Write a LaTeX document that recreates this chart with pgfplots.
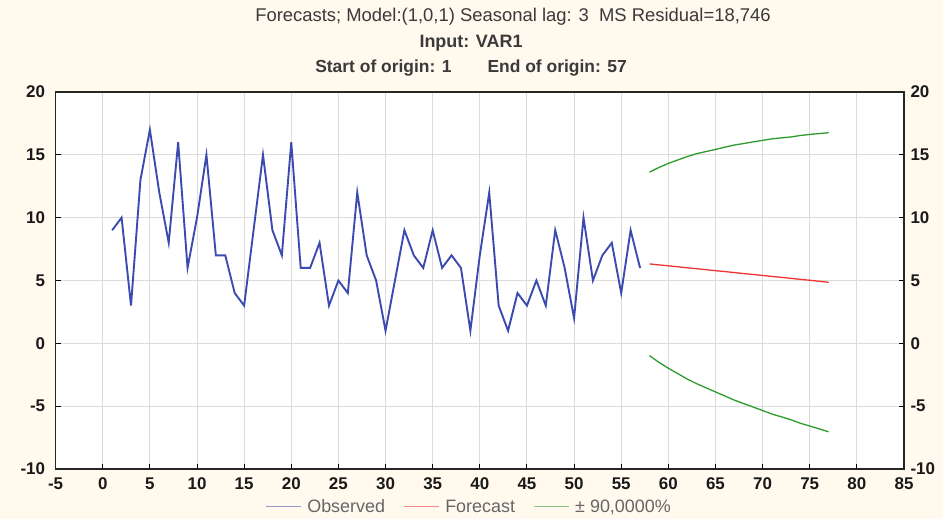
\documentclass[border=0pt]{standalone}
\usepackage{fontspec}
\setmainfont{Liberation Sans}
\usepackage{pgfplots}
\pgfplotsset{compat=1.18}
\definecolor{bgc}{HTML}{FFF9EE}
\definecolor{obs}{HTML}{3B4BB0}
\definecolor{fc}{HTML}{EE3333}
\definecolor{ci}{HTML}{2E9B2E}
\definecolor{gridc}{HTML}{DCDCDC}
\definecolor{txt}{HTML}{3A3A3A}
\begin{document}
\begin{tikzpicture}[x=1bp,y=1bp]
\fill[bgc] (0,0) rectangle (943,519);
\path[use as bounding box] (0,0) rectangle (943,519);
\begin{axis}[
  at={(55.6bp,50bp)}, anchor=south west,
  scale only axis, width=848.4bp, height=377bp,
  xmin=-5, xmax=85, ymin=-10, ymax=20,
  xtick={-5,0,...,85}, ytick={-10,-5,...,20},
  grid=major, major grid style={gridc, line width=0.9bp},
  axis background/.style={fill=white},
  axis line style={line width=1.4bp, black!85},
  tick align=inside, xtick pos=left, ytick pos=both, yticklabel pos=left,
  major tick length=5bp, tick style={line width=0.9bp, black},
  ticklabel style={font=\bfseries\fontsize{17}{17}\selectfont, text=black!90},
  /pgf/number format/assume math mode=true,
  xticklabel style={yshift=-5bp},
  yticklabel style={xshift=-7bp},
  legend style={at={(0.4896,-0.1)}, anchor=center, draw=none, fill=none,
    font=\fontsize{18}{18}\selectfont, text=black!60,
    nodes={inner xsep=6bp, inner ysep=1bp},
    /tikz/every even column/.append style={column sep=12bp}},
  legend columns=3,
  legend image code/.code={\draw[#1, line width=1.2bp, opacity=0.55] (0bp,0bp) -- (35bp,0bp);},
]
\addplot[obs, line width=1.9bp] coordinates {
(1,9) (2,10) (3,3) (4,13) (5,17) (6,12) (7,8) (8,16) (9,6) (10,10)
(11,15) (12,7) (13,7) (14,4) (15,3) (16,9) (17,15) (18,9) (19,7) (20,16)
(21,6) (22,6) (23,8) (24,3) (25,5) (26,4) (27,12) (28,7) (29,5) (30,1)
(31,5) (32,9) (33,7) (34,6) (35,9) (36,6) (37,7) (38,6) (39,1) (40,7)
(41,12) (42,3) (43,1) (44,4) (45,3) (46,5) (47,3) (48,9) (49,6) (50,2)
(51,10) (52,5) (53,7) (54,8) (55,4) (56,9) (57,6)};
\addlegendentry{Observed}
\addplot[fc, line width=1.3bp] coordinates {
(58,6.32) (59,6.24) (60,6.17) (61,6.09) (62,6.01) (63,5.94) (64,5.86) (65,5.78) (66,5.71) (67,5.63)
(68,5.55) (69,5.48) (70,5.40) (71,5.32) (72,5.25) (73,5.17) (74,5.09) (75,5.02) (76,4.94) (77,4.86)};
\addlegendentry{Forecast}
\addplot[ci, line width=1.3bp] coordinates {
(58,13.62) (59,13.99) (60,14.32) (61,14.59) (62,14.86) (63,15.09) (64,15.26) (65,15.43) (66,15.61) (67,15.78)
(68,15.90) (69,16.03) (70,16.15) (71,16.27) (72,16.35) (73,16.42) (74,16.54) (75,16.62) (76,16.69) (77,16.76)};
\addlegendentry{± 90,0000\%}
\addplot[ci, line width=1.3bp, forget plot] coordinates {
(58,-0.98) (59,-1.51) (60,-1.98) (61,-2.41) (62,-2.84) (63,-3.21) (64,-3.54) (65,-3.87) (66,-4.19) (67,-4.52)
(68,-4.80) (69,-5.07) (70,-5.35) (71,-5.63) (72,-5.85) (73,-6.08) (74,-6.36) (75,-6.58) (76,-6.81) (77,-7.04)};
\end{axis}
\begin{axis}[
  at={(55.6bp,50bp)}, anchor=south west,
  scale only axis, width=848.4bp, height=377bp,
  xmin=-5, xmax=85, ymin=-10, ymax=20,
  hide x axis, axis y line*=right, y axis line style={draw=none},
  ytick={-10,-5,...,20}, major tick length=0bp,
  ticklabel style={font=\bfseries\fontsize{17}{17}\selectfont, text=black!90},
  /pgf/number format/assume math mode=true,
  yticklabel style={xshift=3bp},
]
\addplot[draw=none] coordinates {(0,0)};
\end{axis}
\node[text=txt, font=\fontsize{18.5}{18.5}\selectfont] at (513,502) {Forecasts; Model:(1,0,1) Seasonal lag: 3\ \ MS Residual=18,746};
\node[text=txt, font=\bfseries\fontsize{18}{18}\selectfont] at (471,476) {Input: VAR1};
\node[text=txt, font=\bfseries\fontsize{17.5}{17.5}\selectfont] at (471,451) {Start of origin: 1\hspace{36bp}End of origin: 57};
\end{tikzpicture}
\end{document}
